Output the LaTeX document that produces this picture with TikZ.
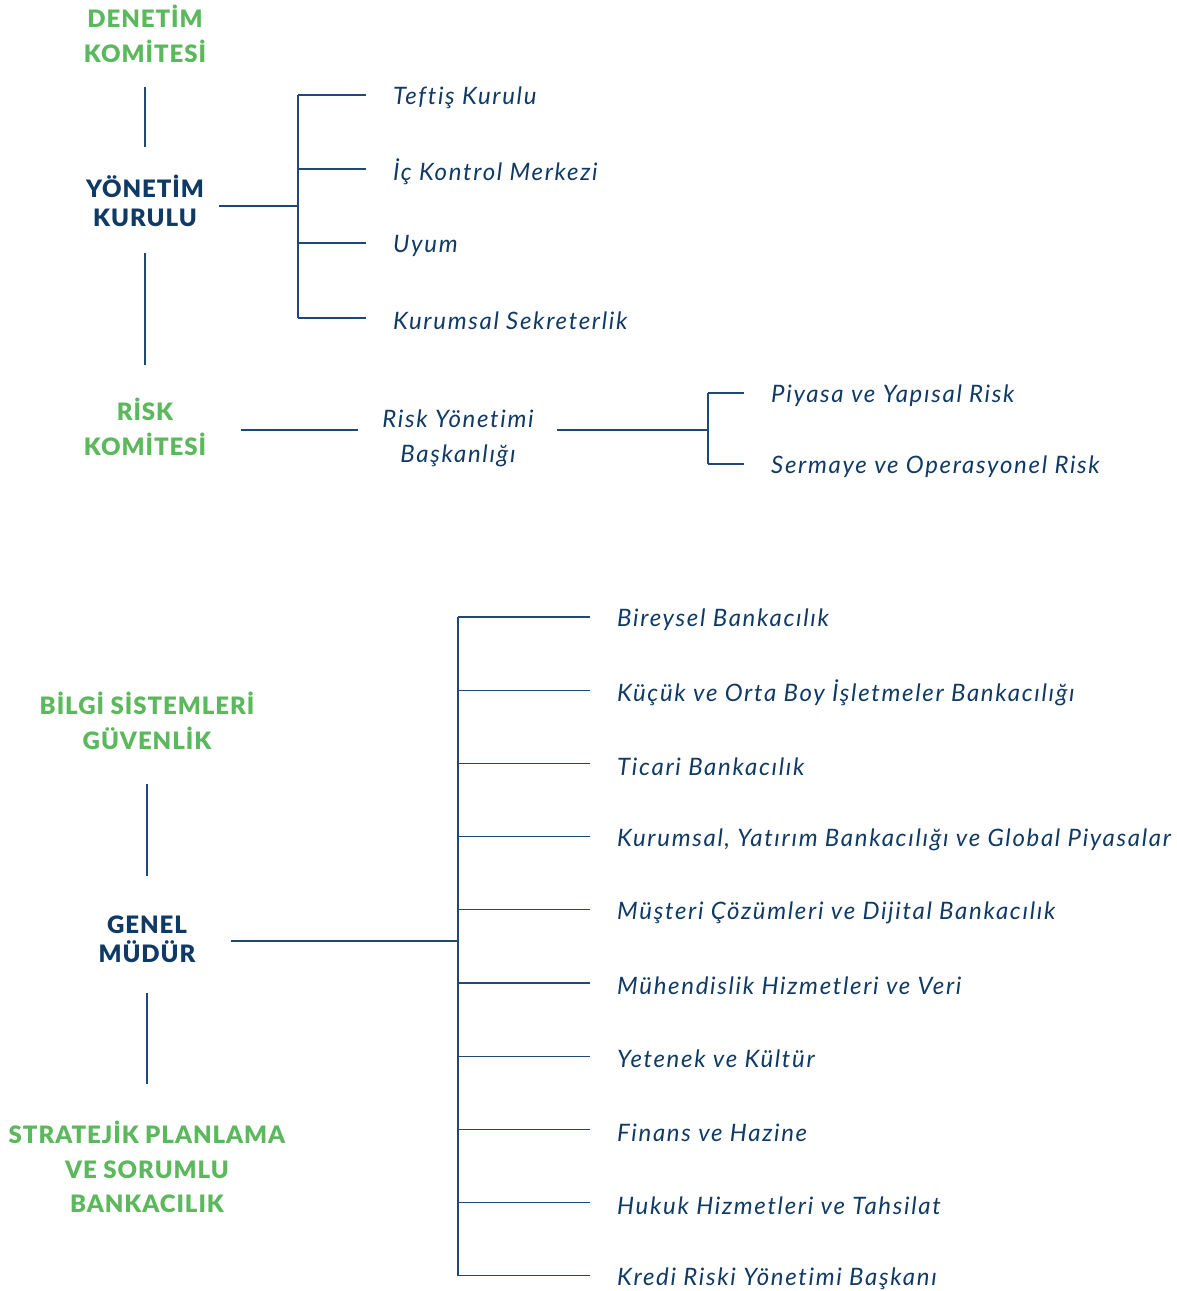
\documentclass[tikz,border=0pt]{standalone}
\usepackage{fontspec}
\setmainfont{Lato}[LetterSpace=7,Ligatures=NoCommon]
\newfontfamily\headfont{Lato Black}[LetterSpace=4]
\usepackage{tikz}
\usetikzlibrary{positioning,calc}
\definecolor{akgreen}{RGB}{92,184,92}
\definecolor{aknavy}{RGB}{16,58,102}
\definecolor{akline}{RGB}{30,72,120}

\begin{document}
\begin{tikzpicture}[x=1pt,y=-1pt,
  head/.style={font=\headfont\fontsize{24}{34.5}\selectfont,align=center,inner sep=0pt},
  board/.style={head,font=\headfont\fontsize{24}{28.5}\selectfont,text=aknavy},
  cmte/.style={head,text=akgreen},
  item/.style={font=\fontsize{24}{35}\selectfont\itshape,text=aknavy,anchor=west,inner xsep=27pt,inner ysep=2pt},
  link/.style={draw=akline,line width=1.3pt}]
  \useasboundingbox (0,0) rectangle (1176,1291);
  % upper block
  \node[cmte] (den) at (145,34) {DENETİM\\KOMİTESİ};
  \node[board] (yk) at (145,201) {YÖNETİM\\KURULU};
  \node[cmte] (risk) at (145,427) {RİSK\\KOMİTESİ};
  \draw[link,shorten <=24pt,shorten >=28pt] (den) -- (yk);
  \draw[link,shorten <=26pt,shorten >=33pt] (yk) -- (risk);
  \coordinate (ykbus) at (298,206);
  \draw[link,shorten <=15pt] (yk.east |- ykbus) -- (ykbus);
  \foreach \y/\lbl [count=\i] in {95/{Teftiş Kurulu},169/{İç Kontrol Merkezi},243/Uyum,318/{Kurumsal Sekreterlik}}{
    \node[item] (yk\i) at (366,\y+3) {\lbl};
    \draw[link] (ykbus |- 0,\y) -- (yk\i.west |- 0,\y);
  }
  \draw[link] (ykbus |- 0,95) -- (ykbus |- 0,318);
  % risk chain
  \node[font=\fontsize{24}{35}\selectfont\itshape,text=aknavy,align=center,inner sep=0pt] (ryb) at (458,438) {Risk Yönetimi\\Başkanlığı};
  \coordinate (rbus) at (708,430);
  \draw[link,shorten <=35pt,shorten >=24pt] (risk.east |- rbus) -- (ryb.west |- rbus);
  \draw[link,shorten <=23pt] (ryb.east |- rbus) -- (rbus);
  \foreach \y/\lbl [count=\i] in {393/{Piyasa ve Yapısal Risk},464/{Sermaye ve Operasyonel Risk}}{
    \node[item] (rk\i) at (744,\y+3) {\lbl};
    \draw[link] (rbus |- 0,\y) -- (rk\i.west |- 0,\y);
  }
  \draw[link] (rbus |- 0,393) -- (rbus |- 0,464);
  % lower block
  \node[cmte] (bsg) at (147,721) {BİLGİ SİSTEMLERİ\\GÜVENLİK};
  \node[board] (gm) at (147,939) {GENEL\\MÜDÜR};
  \node[cmte] (spb) at (147,1167) {STRATEJİK PLANLAMA\\VE SORUMLU\\BANKACILIK};
  \draw[link,shorten <=34pt,shorten >=40pt] (bsg) -- (gm);
  \draw[link,shorten <=31pt,shorten >=37pt] (gm) -- (spb);
  \coordinate (gmbus) at (458,941);
  \draw[link,shorten <=35pt] (gm.east |- gmbus) -- (gmbus);
  \foreach \lbl [count=\i] in {{Bireysel Bankacılık},{Küçük ve Orta Boy İşletmeler Bankacılığı},{Ticari Bankacılık},{Kurumsal, Yatırım Bankacılığı ve Global Piyasalar},{Müşteri Çözümleri ve Dijital Bankacılık},{Mühendislik Hizmetleri ve Veri},{Yetenek ve Kültür},{Finans ve Hazine},{Hukuk Hizmetleri ve Tahsilat},{Kredi Riski Yönetimi Başkanı}}{
    \node[item] (gm\i) at (590,{617+73.2*(\i-1)+3}) {\lbl};
    \draw[link] (gmbus |- 0,{617+73.2*(\i-1)}) -- (gm\i.west |- 0,{617+73.2*(\i-1)});
  }
  \draw[link] (gmbus |- 0,617) -- (gmbus |- 0,1276);
\end{tikzpicture}
\end{document}
